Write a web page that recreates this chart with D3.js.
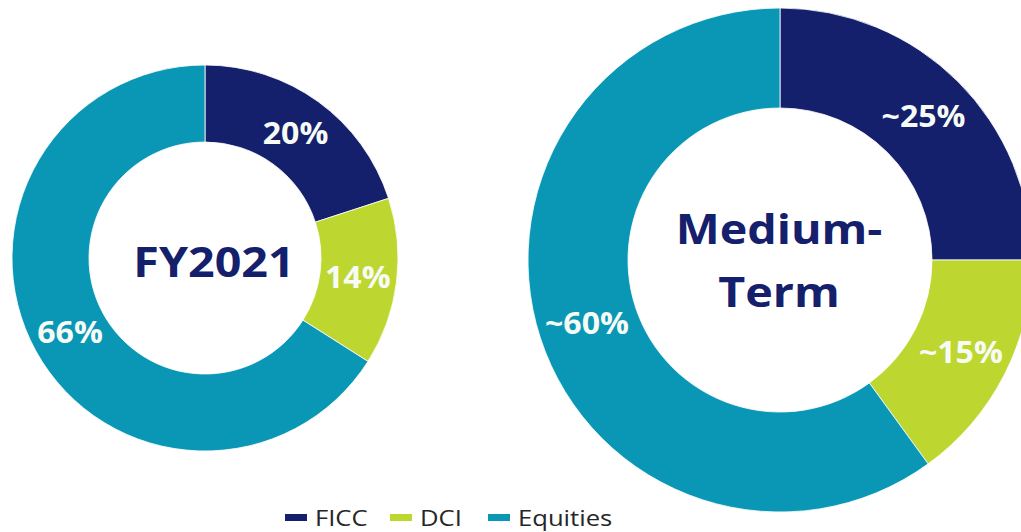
<!DOCTYPE html>
<html>
<head>
<meta charset="utf-8">
<script src="https://cdn.jsdelivr.net/npm/d3@7"></script>
<style>
  html, body { margin: 0; padding: 0; background: #ffffff; }
  svg { display: block; }
  text { font-family: "Open Sans", "Noto Sans", sans-serif; }
</style>
</head>
<body>
<svg id="chart" width="1021" height="532"></svg>
<script>
// Business segments, in drawing order (clockwise from 12 o'clock)
const segments = ["FICC", "DCI", "Equities"];
const segmentColors = ["#14206b", "#bed730", "#0a97b5"];

// Revenue mix per period (%)
const fy2021Values = [20, 14, 66];
const mediumTermValues = [25, 15, 60];

// Slice labels as printed
const fy2021Labels = ["20%", "14%", "66%"];
const mediumTermLabels = ["~25%", "~15%", "~60%"];

// Centre captions
const fy2021Title = ["FY2021"];
const mediumTermTitle = ["Medium-", "Term"];

const svg = d3.select("#chart");
const color = d3.scaleOrdinal().domain(segments).range(segmentColors);

const pie = d3.pie().sort(null).value(d => d.value);

function drawDonut(cfg) {
  const rows = segments.map((s, i) => ({ key: s, value: cfg.values[i], label: cfg.labels[i] }));
  const arcs = pie(rows);
  const arc = d3.arc().innerRadius(cfg.inner).outerRadius(cfg.outer);
  const labelArc = d3.arc().innerRadius(cfg.labelR).outerRadius(cfg.labelR);

  const g = svg.append("g").attr("transform", `translate(${cfg.cx},${cfg.cy})`);

  g.selectAll("path.slice")
    .data(arcs)
    .join("path")
    .attr("class", "slice")
    .attr("d", arc)
    .attr("fill", d => color(d.data.key))
    .attr("stroke", "#ffffff")
    .attr("stroke-width", 0.8);

  // Percentage labels sit on the ring's centre line, mid-slice
  g.selectAll("text.pct")
    .data(arcs)
    .join("text")
    .attr("class", "pct")
    .attr("transform", d => {
      const [x, y] = labelArc.centroid(d);
      return `translate(${x},${y}) scale(1.07,1)`;
    })
    .attr("text-anchor", "middle")
    .attr("dy", "0.36em")
    .attr("fill", "#f7fbf6")
    .attr("font-size", 30)
    .attr("font-weight", 700)
    .text(d => d.data.label);

  const n = cfg.title.length;
  g.selectAll("text.title")
    .data(cfg.title)
    .join("text")
    .attr("class", "title")
    .attr("transform", (d, i) =>
      `translate(${cfg.titleDx},${(i - (n - 1) / 2) * cfg.titleLead + cfg.titleDy}) scale(1.11,1)`)
    .attr("dy", "0.36em")
    .attr("text-anchor", "middle")
    .attr("fill", "#14206b")
    .attr("font-size", 42)
    .attr("font-weight", 700)
    .text(d => d);
}

drawDonut({
  cx: 205, cy: 258, inner: 116, outer: 193, labelR: 154,
  values: fy2021Values, labels: fy2021Labels,
  title: fy2021Title, titleLead: 0, titleDx: 9, titleDy: 4
});

drawDonut({
  cx: 780, cy: 260, inner: 152, outer: 252, labelR: 203,
  values: mediumTermValues, labels: mediumTermLabels,
  title: mediumTermTitle, titleLead: 63, titleDx: -1, titleDy: 0
});

// Legend along the bottom edge
const legend = svg.append("g").attr("transform", "translate(285,518)");
const legendX = d3.scaleOrdinal().domain(segments).range([0, 105, 203]);
const item = legend.selectAll("g.item")
  .data(segments)
  .join("g")
  .attr("class", "item")
  .attr("transform", d => `translate(${legendX(d)},0)`);
item.append("rect")
  .attr("x", 0).attr("y", -4).attr("width", 22).attr("height", 7)
  .attr("fill", d => color(d));
item.append("text")
  .attr("transform", "translate(30,0) scale(1.22,1)")
  .attr("dy", "0.36em")
  .attr("font-size", 21)
  .attr("fill", "#262626")
  .text(d => d);
</script>
</body>
</html>
